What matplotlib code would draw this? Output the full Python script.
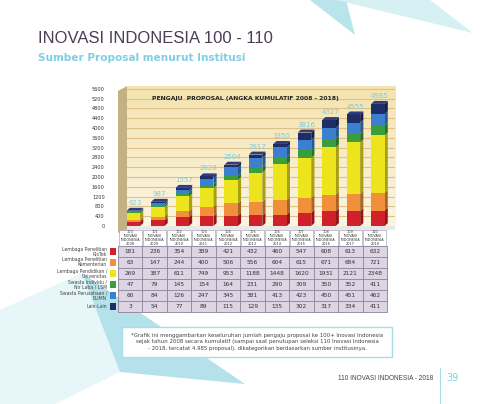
import matplotlib
matplotlib.use("Agg")
import matplotlib.pyplot as plt
import matplotlib.colors as mcolors
from matplotlib.patches import Polygon, Rectangle
import numpy as np

editions = ["100", "101", "102", "103", "104", "105", "106", "107", "108", "109", "110"]
years = ["2008", "2009", "2010", "2011", "2012", "2013", "2014", "2015", "2016", "2017", "2018"]
categories = ["Lembaga Penelitian\nRisTek", "Lembaga Penelitian\nKementerian",
              "Lembaga Pendidikan /\nUniversitas", "Swasta Individu /\nNir Laba / LSM",
              "Swasta Perusahaan /\nBUMN", "Lain-Lain"]
ristek = [181, 236, 354, 389, 421, 432, 460, 547, 608, 613, 632]
kementerian = [63, 147, 244, 400, 506, 556, 604, 615, 671, 684, 721]
universitas = [269, 387, 611, 749, 953, 1188, 1448, 1620, 1931, 2121, 2348]
individu = [47, 79, 145, 154, 164, 231, 290, 309, 350, 352, 411]
perusahaan = [60, 84, 126, 247, 345, 381, 413, 423, 450, 451, 462]
lainlain = [3, 54, 77, 89, 115, 129, 135, 302, 317, 334, 411]
series = [ristek, kementerian, universitas, individu, perusahaan, lainlain]
colors = ["#d0202a", "#f0903a", "#eee41e", "#3a9e3c", "#3b7fcf", "#1e2c68"]
yticks = list(range(0, 5601, 400))

W, H = 480, 404
fig = plt.figure(figsize=(W / 100, H / 100), dpi=100)


def fr(x0, y0, x1, y1):
    # pixel box -> figure fraction rect
    return [x0 / W, 1 - y1 / H, (x1 - x0) / W, (y1 - y0) / H]


def darker(c, f=0.7):
    r, g, b = mcolors.to_rgb(c)
    return (r * f, g * f, b * f)


# background / decoration layer in pixel coordinates
bg = fig.add_axes([0, 0, 1, 1], zorder=0)
bg.set_xlim(0, W)
bg.set_ylim(H, 0)
bg.axis("off")
bg.add_patch(Polygon([(310, 0), (355, 35), (346, 0)], color="#b9e4ec", lw=0))
bg.add_patch(Polygon([(336, 0), (473, 33), (430, 0)], color="#d6f0f4", lw=0))
bg.add_patch(Polygon([(82, 273), (0, 310), (0, 404), (55, 404), (120, 372)], color="#e6f6f9", lw=0))
bg.add_patch(Polygon([(82, 273), (245, 384), (120, 372)], color="#b5e2ea", lw=0))
bg.add_patch(Polygon([(118, 91), (127, 86), (127, 230), (118, 233)], color="#c2b282", lw=0))
bg.add_patch(Rectangle((122, 327), 270, 30, facecolor="white", edgecolor="#a8dde6", lw=1.0))
bg.plot([440, 440], [368, 404], color="#a8dde6", lw=0.8)

fig.text(38 / W, 1 - 43 / H, "INOVASI INDONESIA 100 - 110", fontsize=12,
         family="Liberation Sans", color="#4a3d55", va="baseline")
fig.text(38 / W, 1 - 61 / H, "Sumber Proposal menurut Institusi", fontsize=7.6,
         fontweight="bold", color="#80cfe0", va="baseline")

# main chart
ax = fig.add_axes(fr(127, 86, 395, 230), zorder=1)
ymin, ymax = -163, 5715
ax.set_ylim(ymin, ymax)
ax.set_xlim(-0.26, 10.70)
grad = np.linspace(0, 1, 100).reshape(-1, 1)
cmap = mcolors.LinearSegmentedColormap.from_list("bgc", ["#fcf5e0", "#f5e3b0"])
ax.imshow(grad, cmap=cmap, extent=[-0.26, 10.70, 0, ymax], aspect="auto",
          origin="lower", zorder=0)
for t in yticks[1:]:
    ax.axhline(t, color="#dcc28a", lw=0.8, zorder=1)
ax.add_patch(Polygon([(-0.26, ymin), (10.70, ymin), (10.70, 0), (-0.26, 0)],
                     color="#e8e8e8", lw=0, zorder=1))
ax.set_yticks(yticks)
ax.set_yticklabels([str(t) for t in yticks], fontsize=3.6, color="#333333")
ax.tick_params(axis="y", length=0, pad=16)
ax.set_xticks([])
for s in ax.spines.values():
    s.set_visible(False)

x = np.arange(len(years))
w = 0.55
dx, dy = 0.13, 120
bottom = np.zeros(len(years))
for vals, c in zip(series, colors):
    vals = np.array(vals)
    ax.bar(x, vals, width=w, bottom=bottom, color=c, lw=0, zorder=3)
    for xi, b0, v in zip(x, bottom, vals):
        ax.add_patch(Polygon([(xi + w / 2, b0), (xi + w / 2 + dx, b0 + dy),
                              (xi + w / 2 + dx, b0 + v + dy), (xi + w / 2, b0 + v)],
                             color=darker(c), lw=0, zorder=2))
    bottom = bottom + vals
for xi, tot in zip(x, bottom):
    ax.add_patch(Polygon([(xi - w / 2, tot), (xi + w / 2, tot), (xi + w / 2 + dx, tot + dy),
                          (xi - w / 2 + dx, tot + dy)], color="#2b3d80", lw=0, zorder=4))
    ax.text(xi + dx / 2, tot + dy + 80, f"{int(tot)}", ha="center", va="bottom",
            fontsize=5, color="#79cdd8", zorder=5)
ax.text((245 - 127) / 268, 0.915, "PENGAJU  PROPOSAL (ANGKA KUMULATIF 2008 - 2018)",
        transform=ax.transAxes, ha="center", va="center", fontsize=4.4,
        fontweight="bold", color="#222222")

# data table
x0, x1 = 118, 387
cw = (x1 - x0) / len(years)
hy0, hy1 = 230, 246
rh = (312 - hy1) / len(series)
for j in range(len(years)):
    cx = x0 + j * cw
    bg.add_patch(Rectangle((cx + 0.5, hy0), cw - 1, hy1 - hy0, facecolor="white",
                           edgecolor="#9a90a2", lw=0.4, zorder=2))
    bg.text(cx + cw / 2, (hy0 + hy1) / 2, f"{editions[j]}\nINOVASI\nINDONESIA\n{years[j]}",
            ha="center", va="center", fontsize=2.5, linespacing=1.0, color="#333333", zorder=3)
bg.add_patch(Rectangle((x0, hy1), x1 - x0, rh * len(series), facecolor="#ddd4e4",
                       edgecolor="#8e8196", lw=0.6, zorder=2))
for i in range(1, len(series)):
    bg.plot([x0, x1], [hy1 + i * rh] * 2, color="#8e8196", lw=0.6, zorder=3)
for j in range(1, len(years)):
    bg.plot([x0 + j * cw] * 2, [hy1, hy1 + rh * len(series)], color="#8e8196", lw=0.6, zorder=3)
for i, (vals, c, name) in enumerate(zip(series, colors, categories)):
    cy = hy1 + (i + 0.5) * rh
    for j, v in enumerate(vals):
        bg.text(x0 + (j + 0.5) * cw, cy, str(v), ha="center", va="center",
                fontsize=4.2, color="#333333", zorder=4)
    bg.add_patch(Rectangle((110, cy - 3.2), 6.4, 6.4, color=c, lw=0, zorder=3))
    bg.text(107, cy, name, ha="right", va="center", fontsize=3.3, linespacing=1.0,
            color="#444444", zorder=3)

note = ("*Grafik ini menggambarkan keseluruhan jumlah pengaju proposal ke 100+ Inovasi Indonesia\n"
        "sejak tahun 2008 secara kumulatif (sampai saat penutupan seleksi 110 Inovasi Indonesia\n"
        "- 2018, tercatat 4.985 proposal), dikategorikan berdasarkan sumber institusinya.")
bg.text(257, 342, note, ha="center", va="center", fontsize=3.9, linespacing=1.35,
        color="#444444", zorder=3)
bg.text(433, 378, "110 INOVASI INDONESIA - 2018", ha="right", va="center", fontsize=4.7,
        family="Liberation Sans", color="#4a3d55", zorder=3)
bg.text(446, 378, "39", ha="left", va="center", fontsize=7, color="#80cfe0", zorder=3)

fig.savefig("out.png", dpi=100)
